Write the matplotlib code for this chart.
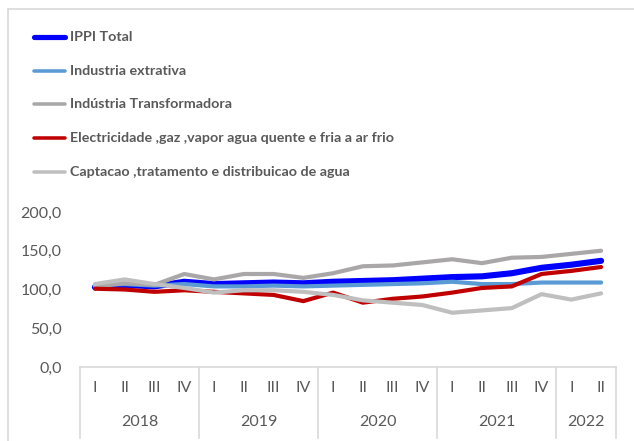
import matplotlib
matplotlib.use("Agg")
import matplotlib.pyplot as plt
from matplotlib.lines import Line2D
import matplotlib.transforms as mtransforms

quarters = ["I", "II", "III", "IV"] * 4 + ["I", "II"]
years = ["2018", "2019", "2020", "2021", "2022"]
year_counts = [4, 4, 4, 4, 2]

series_names = [
    "IPPI Total",
    "Industria extrativa",
    "Indústria Transformadora",
    "Electricidade ,gaz ,vapor agua quente e fria a ar frio",
    "Captacao ,tratamento e distribuicao de agua",
]
ippi_total = [103, 106, 104, 110, 107, 108, 109, 108, 110, 111, 112, 114, 116, 117, 121, 128, 132, 137]
ind_extrativa = [106, 107, 105, 107, 104, 104, 105, 104, 105, 106, 107, 108, 110, 107, 107, 109, 109, 109]
ind_transformadora = [104, 108, 106, 120, 113, 120, 120, 115, 121, 130, 131, 135, 139, 134, 141, 142, 146, 150]
electricidade = [101, 100, 97, 99, 97, 95, 93, 85, 96, 83, 88, 91, 96, 102, 104, 120, 124, 129]
captacao = [107, 113, 107, 102, 96, 99, 99, 97, 93, 86, 83, 80, 70, 73, 76, 94, 87, 95]
yticks = [0, 50, 100, 150, 200]

series_values = [ippi_total, ind_extrativa, ind_transformadora, electricidade, captacao]
colors = ["#0000FF", "#5B9BD5", "#A9A7A7", "#C00000", "#BFBFBF"]
widths = [4.4, 3.0, 3.0, 3.0, 3.0]

W, H = 634, 441
fig = plt.figure(figsize=(W / 100, H / 100), dpi=100)
TXT = "#595959"
font_leg = ["Liberation Sans Narrow", "Lato", "DejaVu Sans"]
font_tick = ["Liberation Sans Narrow", "Lato", "DejaVu Sans"]

# outer chart frame
fig.add_artist(Line2D([8 / W, 8 / W], [0, 1 - 9 / H], color="#D9D9D9", lw=1.2))
fig.add_artist(Line2D([8 / W, 1], [1 - 9 / H, 1 - 9 / H], color="#D9D9D9", lw=1.2))

ax_l, ax_r, ax_t, ax_b = 80, 616, 212, 367
ax = fig.add_axes([ax_l / W, 1 - ax_b / H, (ax_r - ax_l) / W, (ax_b - ax_t) / H])
n = len(quarters)
xs = [i + 0.5 for i in range(n)]
for vals, c, lw in zip(series_values, colors, widths):
    ax.plot(xs, vals, color=c, lw=lw, solid_capstyle="round", solid_joinstyle="round")

ax.set_xlim(0, n)
ax.set_ylim(0, 200)
ax.set_yticks(yticks)
ax.set_yticklabels([f"{v:.1f}".replace(".", ",") for v in yticks], family=font_tick, fontsize=11.5, color=TXT)
ax.tick_params(axis="y", length=0, pad=13)
ax.set_xticks(xs)
ax.set_xticklabels(quarters, family=font_tick, fontsize=11.5, color=TXT)
ax.tick_params(axis="x", length=0, pad=10)
for s in ["top", "right", "left"]:
    ax.spines[s].set_visible(False)
ax.spines["bottom"].set_color("#D9D9D9")
ax.spines["bottom"].set_linewidth(1.2)

trans = mtransforms.blended_transform_factory(ax.transData, ax.transAxes)
pos = 0
seps = [0]
for y, cnt in zip(years, year_counts):
    ax.text(pos + cnt / 2, (ax_b - 422) / (ax_b - ax_t), y, transform=trans, ha="center", va="center",
            family=font_tick, fontsize=11.5, color=TXT)
    pos += cnt
    seps.append(pos)
for s in seps:
    ax.plot([s, s], [0, (ax_b - 438) / (ax_b - ax_t)], transform=trans, color="#D9D9D9", lw=1.2, clip_on=False)

# legend
leg_y = [37, 71, 104, 138, 172]
for name, c, lw, y in zip(series_names, colors, widths, leg_y):
    fig.add_artist(Line2D([34 / W, 65 / W], [1 - y / H, 1 - y / H], color=c, lw=lw * 0.85, solid_capstyle="round"))
    fig.text(70 / W, 1 - y / H, name, ha="left", va="center", family=font_leg, fontweight="bold",
             fontsize=10.3, color=TXT)

fig.savefig("out.png", dpi=100)
